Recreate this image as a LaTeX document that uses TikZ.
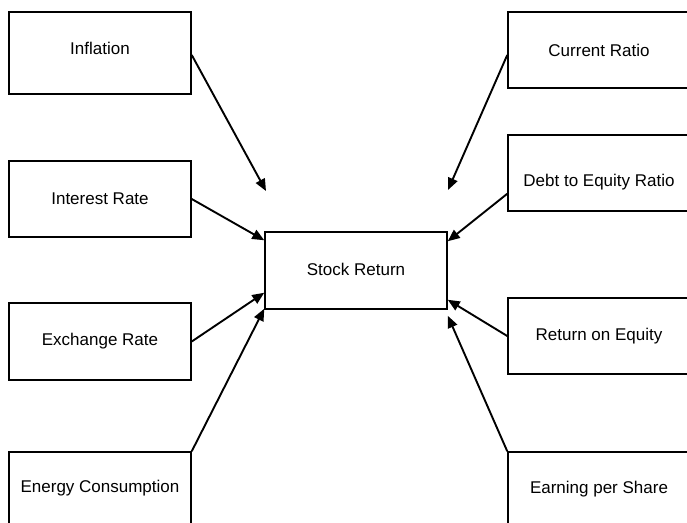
\documentclass[tikz,border=0pt]{standalone}
\usepackage{fontspec}
\setmainfont{Liberation Sans}
\usetikzlibrary{arrows.meta}

\begin{document}
\begin{tikzpicture}[x=1pt, y=-1pt,
    box/.style={draw, line width=1.5pt, minimum width=182pt, inner sep=0pt},
    lbl/.style={font=\fontsize{17}{20}\selectfont, inner sep=0pt},
    arr/.style={line width=1.9pt, -{Triangle[length=12pt, width=10pt]}}]
        \useasboundingbox (0,0) rectangle (687,522);
        \clip (0,0) rectangle (687,522);
        % left column
        \node [box, minimum height=82pt] (infl) at (100,53) {};
        \node [lbl] (infl-t) at (100,48) {Inflation};
        \node [box, minimum height=76pt] (inter) at (100,199) {};
        \node [lbl] (inter-t) at (100,199) {Interest Rate};
        \node [box, minimum height=77pt] (exch) at (100,341.5) {};
        \node [lbl] (exch-t) at (100,341) {Exchange Rate};
        \node [box, minimum height=78pt] (energy) at (100,491) {};
        \node [lbl] (energy-t) at (100,488) {Energy Consumption};
        % right column
        \node [box, minimum height=76pt] (curr) at (599,50) {};
        \node [lbl] (curr-t) at (599,50) {Current Ratio};
        \node [box, minimum height=76pt] (debt) at (599,173) {};
        \node [lbl] (debt-t) at (599,182) {Debt to Equity Ratio};
        \node [box, minimum height=76pt] (roe) at (599,336) {};
        \node [lbl] (roe-t) at (599,336) {Return on Equity};
        \node [box, minimum height=78pt] (eps) at (599,491) {};
        \node [lbl] (eps-t) at (599,489) {Earning per Share};
        % target
        \node [box, minimum height=77pt] (stock) at (356,270.5) {};
        \node [lbl] (stock-t) at (356,269) {Stock Return};
        % free arrow ends
        \coordinate (infl-end) at (266,191);
        \coordinate (curr-end) at (448,190);
        % arrows
        \draw [arr] ([yshift=-2pt]infl.east) -- (infl-end);
        \draw [arr] (inter.east) -- ([yshift=-9pt]stock.north west);
        \draw [arr] (exch.east) -- ([yshift=17pt]stock.south west);
        \draw [arr] (energy.north east) -- ([yshift=1pt]stock.south west);
        \draw [arr] ([yshift=-5pt]curr.west) -- (curr-end);
        \draw [arr] ([yshift=18pt]debt.south west) -- ([yshift=-10pt]stock.north east);
        \draw [arr] (roe.west) -- ([yshift=10pt]stock.south east);
        \draw [arr] (eps.north west) -- ([yshift=-6pt]stock.south east);
\end{tikzpicture}
\end{document}
